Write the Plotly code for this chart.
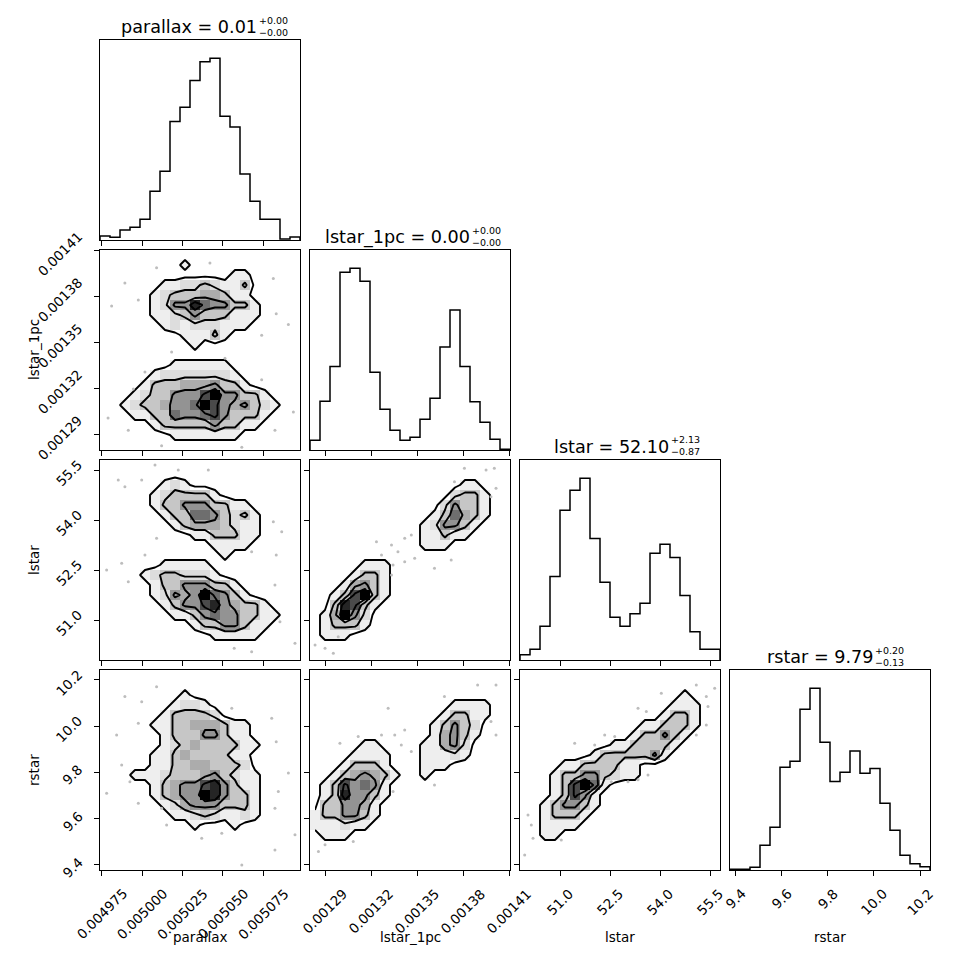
import numpy as np
import plotly.graph_objects as go

# ---------------- data ----------------
NAMES = ["parallax", "lstar_1pc", "lstar", "rstar"]
RANGES = [[0.004974, 0.0050977], [0.0012802, 0.0014105], [49.80, 55.80], [9.378, 10.243]]
TICKVALS = [[0.004975, 0.005, 0.005025, 0.00505, 0.005075],
            [0.00129, 0.00132, 0.00135, 0.00138, 0.00141],
            [51.0, 52.5, 54.0, 55.5],
            [9.4, 9.6, 9.8, 10.0, 10.2]]
TICKTEXT = [["0.004975", "0.005000", "0.005025", "0.005050", "0.005075"],
            ["0.00129", "0.00132", "0.00135", "0.00138", "0.00141"],
            ["51.0", "52.5", "54.0", "55.5"],
            ["9.4", "9.6", "9.8", "10.0", "10.2"]]

HIST_PARALLAX = [12, 8, 30, 38, 62, 146, 206, 355, 398, 478, 534, 545, 371, 339, 198, 116, 62, 62, 3, 9]
HIST_LSTAR_1PC = [29, 146, 250, 533, 545, 506, 233, 122, 59, 29, 38, 92, 155, 309, 420, 250, 145, 83, 32, 2]
HIST_LSTAR = [16, 32, 101, 250, 449, 509, 545, 364, 233, 128, 101, 139, 170, 320, 347, 307, 193, 85, 32, 32]
HIST_RSTAR = [2, 2, 8, 74, 128, 308, 326, 482, 545, 383, 265, 293, 357, 290, 304, 200, 119, 44, 19, 10]

TITLE_MAIN = ["parallax = 0.01", "lstar_1pc = 0.00", "lstar = 52.10", "rstar = 9.79"]
TITLE_SUP = ["+0.00", "+0.00", "+2.13", "+0.20"]
TITLE_SUB = ["\u22120.00", "\u22120.00", "\u22120.87", "\u22120.13"]

# 2D density grids (20x20, top row = highest y), digits = relative density
GRID_PAR_L1PC = [
    "00000000000000000000",
    "00000000100000000000",
    "00000000000001100000",
    "00000011223211300000",
    "00000123334431100000",
    "00000125586553310000",
    "00000112353331110000",
    "00000012122211100000",
    "00000000111310000000",
    "00000000010000000000",
    "00000000000000000000",
    "00000001111110000000",
    "00000122222221000000",
    "00001333444533100000",
    "00012335557955331000",
    "00123345569754532100",
    "00011336556753331000",
    "00000133333533110000",
    "00000001111111000000",
    "00000000000000000000",
]
GRID_PAR_LSTAR = [
    "00000000000000000000",
    "00000000000000000000",
    "00000012100000000000",
    "00000123333100000000",
    "00000133555331100000",
    "00000013366532310000",
    "00000001344432110000",
    "00000000011333110000",
    "00000000000111100000",
    "00000000000010000000",
    "00000011111000000000",
    "00001233222100000000",
    "00000133555331000000",
    "00000125459653100000",
    "00000013557854331000",
    "00000001135655331100",
    "00000000013355311000",
    "00000000000111110000",
    "00000000000000000000",
    "00000000000000000000",
]
GRID_L1PC_LSTAR = [
    "00000000000000000000",
    "00000000000000000000",
    "00000000000000011000",
    "00000000000000233100",
    "00000000000002533100",
    "00000000000013643100",
    "00000000000125531000",
    "00000000000113110000",
    "00000000000111000000",
    "00000000000000000000",
    "00000111000000000000",
    "00001331000000000000",
    "00014531000000000000",
    "00137931000000000000",
    "00387310000000000000",
    "01495200000000000000",
    "01333100000000000000",
    "01110000000000000000",
    "00000000000000000000",
    "00000000000000000000",
]
GRID_PAR_RSTAR = [
    "00000000000000000000",
    "00000000000000000000",
    "00000000100000000000",
    "00000001221000000000",
    "00000013333200000000",
    "00000113344431100000",
    "00000013335531100000",
    "00000012343333110000",
    "00000113433331100000",
    "00000113344333200000",
    "00011123334532110000",
    "00000134557853110000",
    "00000134559853310000",
    "00000012455533310000",
    "00000001123211210000",
    "00000000010001000000",
    "00000000000000000000",
    "00000000000000000000",
    "00000000000000000000",
    "00000000000000000000",
]
GRID_L1PC_RSTAR = [
    "00000000000000000000",
    "00000000000000000000",
    "00000000000000000000",
    "00000000000000111100",
    "00000000000001331100",
    "00000000000013532000",
    "00000000000014531000",
    "00000110000114520000",
    "00001111000111210000",
    "00013331000111000000",
    "00134543100100000000",
    "01375651000000000000",
    "01385531000000000000",
    "03355410000000000000",
    "13355310000000000000",
    "11121100000000000000",
    "01110000000000000000",
    "00000000000000000000",
    "00000000000000000000",
    "00000000000000000000",
]
GRID_LSTAR_RSTAR = [
    "00000000000000000000",
    "00000000000000000000",
    "00000000000000001000",
    "00000000000000011100",
    "00000000000000133100",
    "00000000000011333100",
    "00000000000133531000",
    "00000000011333310000",
    "00000001333335100000",
    "00001133331100000000",
    "00013355321100000000",
    "00013796100000000000",
    "00013751000000000000",
    "00135531000000000000",
    "00133310000000000000",
    "00111100000000000000",
    "00110000000000000000",
    "00000000000000000000",
    "00000000000000000000",
    "00000000000000000000",
]

# individual samples visible outside the contours
DOTS_PAR_L1PC_X = [0.005009, 0.0049894, 0.0049977, 0.0049812, 0.005042, 0.0050812, 0.005083, 0.0050905,
                   0.005074, 0.0050183, 0.0050018, 0.0049946, 0.004979, 0.0049915, 0.005074, 0.0050936,
                   0.0050822, 0.0050617, 0.0050121, 0.0050513]
DOTS_PAR_L1PC_Y = [0.001399, 0.001389, 0.001378, 0.001374, 0.001402, 0.001392, 0.001369, 0.001362,
                   0.001355, 0.001344, 0.001331, 0.00132, 0.001301, 0.001293, 0.001326, 0.001305,
                   0.001293, 0.001282, 0.001283, 0.00134]
DOTS_PAR_LSTAR_X = [0.005008, 0.0050224, 0.005041, 0.0049998, 0.0049853, 0.0049894, 0.0050812, 0.0050864,
                    0.0050678, 0.005083, 0.005009, 0.0050018, 0.0049874, 0.0049781, 0.0049915, 0.0050822,
                    0.0050853, 0.005057, 0.0050946, 0.0050678]
DOTS_PAR_LSTAR_Y = [55.65, 55.5, 55.5, 55.2, 55.2, 55.0, 53.95, 53.65, 53.05, 52.95, 53.45, 52.95, 52.7,
                    52.5, 52.15, 52.05, 50.95, 50.15, 50.3, 50.05]
DOTS_L1PC_LSTAR_X = [0.0013268, 0.0013333, 0.0013375, 0.0013419, 0.0013462, 0.0013419, 0.0013484,
                     0.0013613, 0.0013722, 0.0013235, 0.0013343, 0.0013808, 0.0013949, 0.0014003,
                     0.0014014, 0.0013981, 0.0013743, 0.0012835, 0.00129, 0.0012954, 0.0012986, 0.0013333]
DOTS_L1PC_LSTAR_Y = [52.95, 53.25, 53.05, 53.45, 53.55, 52.75, 52.85, 52.55, 52.8, 53.35, 52.65, 55.55,
                     55.5, 55.55, 54.95, 54.7, 55.15, 50.25, 50.15, 50.0, 50.5, 52.35]
DOTS_PAR_RSTAR_X = [0.005009, 0.0049998, 0.0049894, 0.0049977, 0.0049843, 0.0049874, 0.0049781, 0.0049977,
                    0.0050121, 0.0049925, 0.0050555, 0.0050802, 0.005083, 0.0050905, 0.0050843, 0.0050822,
                    0.0050946, 0.0050822, 0.0050369, 0.0050493, 0.0050617, 0.0050152]
DOTS_PAR_RSTAR_Y = [10.171, 10.106, 10.128, 10.013, 9.962, 9.832, 9.71, 9.667, 9.645, 9.76, 10.078, 10.034,
                    9.933, 9.797, 9.717, 9.645, 9.53, 9.465, 9.515, 9.537, 9.4, 9.573]
DOTS_L1PC_RSTAR_X = [0.0012857, 0.00129, 0.0012997, 0.0013116, 0.0013311, 0.0013268, 0.0013354, 0.0013419,
                     0.0013397, 0.0013462, 0.0013613, 0.0013678, 0.0013894, 0.0014014, 0.0013981, 0.0014014,
                     0.0013084, 0.0013343]
DOTS_L1PC_RSTAR_Y = [9.458, 9.487, 9.926, 9.955, 10.078, 9.962, 9.962, 9.984, 9.919, 9.89, 9.746, 10.128,
                     10.178, 10.178, 10.02, 9.962, 9.501, 9.717]
DOTS_LSTAR_RSTAR_X = [50.04, 50.14, 50.19, 51.04, 51.44, 52.04, 52.34, 52.64, 53.34, 53.59, 54.04, 55.09,
                      55.39, 55.64, 55.44, 55.39, 55.09, 52.54, 53.04, 53.34, 53.64, 49.94]
DOTS_LSTAR_RSTAR_Y = [9.616, 9.573, 9.515, 9.508, 9.926, 9.919, 9.962, 9.955, 10.078, 10.063, 10.142, 10.178,
                      10.128, 10.164, 10.085, 10.005, 9.962, 9.76, 9.76, 9.768, 9.789, 9.443]

HISTS = [HIST_PARALLAX, HIST_LSTAR_1PC, HIST_LSTAR, HIST_RSTAR]
GRIDS = {(1, 0): GRID_PAR_L1PC, (2, 0): GRID_PAR_LSTAR, (2, 1): GRID_L1PC_LSTAR,
         (3, 0): GRID_PAR_RSTAR, (3, 1): GRID_L1PC_RSTAR, (3, 2): GRID_LSTAR_RSTAR}
DOTS = {(1, 0): (DOTS_PAR_L1PC_X, DOTS_PAR_L1PC_Y), (2, 0): (DOTS_PAR_LSTAR_X, DOTS_PAR_LSTAR_Y),
        (2, 1): (DOTS_L1PC_LSTAR_X, DOTS_L1PC_LSTAR_Y), (3, 0): (DOTS_PAR_RSTAR_X, DOTS_PAR_RSTAR_Y),
        (3, 1): (DOTS_L1PC_RSTAR_X, DOTS_L1PC_RSTAR_Y), (3, 2): (DOTS_LSTAR_RSTAR_X, DOTS_LSTAR_RSTAR_Y)}

# ---------------- layout geometry (pixels) ----------------
W = H = 970
COL_LEFT = [100, 310, 520, 730]
ROW_TOP = [40, 250, 460, 670]
SIZE = 200
TITLE_SPLIT = [258, 471, 669.5, 874]
FONT = "DejaVu Sans, Liberation Sans, sans-serif"
GRAYS = [[0, "#ffffff"], [1 / 9, "#eeeeee"], [2 / 9, "#dddddd"], [3 / 9, "#c6c6c6"],
         [4 / 9, "#acacac"], [5 / 9, "#939393"], [6 / 9, "#6e6e6e"], [7 / 9, "#4a4a4a"],
         [8 / 9, "#252525"], [1, "#000000"]]


def fx(p):
    return p / W


def fy(p):
    return 1 - p / H


fig = go.Figure()
layout = dict(width=W, height=H, margin=dict(l=0, r=0, t=0, b=0),
              paper_bgcolor="white", plot_bgcolor="white", showlegend=False,
              font=dict(family=FONT, size=14, color="black"))
annotations = []

for i in range(4):
    for j in range(i + 1):
        n = i * 4 + j + 1
        sfx = "" if n == 1 else str(n)
        xref, yref = "x" + sfx, "y" + sfx
        xlo, xhi = RANGES[j]
        edges = np.linspace(xlo, xhi, 21)
        common = dict(showgrid=False, zeroline=False, showline=True, linecolor="black",
                      linewidth=1, mirror=True, ticks="outside", ticklen=5, tickwidth=1,
                      tickcolor="black", showticklabels=False)
        layout["xaxis" + sfx] = dict(common, domain=[fx(COL_LEFT[j]), fx(COL_LEFT[j] + SIZE)],
                                     anchor=yref, range=[xlo, xhi], tickvals=TICKVALS[j])
        if i == j:
            h = HISTS[i]
            xs, ys = [edges[0]], [0]
            for k, v in enumerate(h):
                xs += [edges[k], edges[k + 1]]
                ys += [v, v]
            xs.append(edges[-1])
            ys.append(0)
            fig.add_trace(go.Scatter(x=xs, y=ys, mode="lines", xaxis=xref, yaxis=yref,
                                     line=dict(color="black", width=1.5), hoverinfo="skip"))
            layout["yaxis" + sfx] = dict(common, domain=[fy(ROW_TOP[i] + SIZE), fy(ROW_TOP[i])],
                                         anchor=xref, range=[0, 1.1 * max(h)], ticks="",
                                         showticklabels=False)
            # title with stacked super/subscript
            annotations.append(dict(text=TITLE_MAIN[i], x=fx(TITLE_SPLIT[i]), y=fy(ROW_TOP[i] - 13),
                                    xref="paper", yref="paper", xanchor="right", yanchor="middle",
                                    showarrow=False, borderpad=0, font=dict(size=17.6, family=FONT)))
            annotations.append(dict(text=TITLE_SUP[i] + "<br>" + TITLE_SUB[i], x=fx(TITLE_SPLIT[i]),
                                    y=fy(ROW_TOP[i] - 14), xref="paper", yref="paper",
                                    xanchor="left", yanchor="middle", align="left", borderpad=0,
                                    showarrow=False, font=dict(size=9.5, family=FONT)))
        else:
            ylo, yhi = RANGES[i]
            yedges = np.linspace(ylo, yhi, 21)
            xc = (edges[:-1] + edges[1:]) / 2
            yc = (yedges[:-1] + yedges[1:]) / 2
            grid = GRIDS[(i, j)]
            z = [[int(ch) for ch in row] for row in reversed(grid)]
            fig.add_trace(go.Heatmap(x=xc, y=yc, z=z, colorscale=GRAYS, zmin=0, zmax=9,
                                     showscale=False, xaxis=xref, yaxis=yref, hoverinfo="skip"))
            dx, dy = DOTS[(i, j)]
            fig.add_trace(go.Scatter(x=dx, y=dy, mode="markers", xaxis=xref, yaxis=yref,
                                     marker=dict(size=3, color="#bdbdbd"), hoverinfo="skip"))
            fig.add_trace(go.Contour(x=xc, y=yc, z=z, xaxis=xref, yaxis=yref, showscale=False,
                                     contours=dict(start=0.5, end=6.5, size=2, coloring="none"),
                                     line=dict(color="black", width=1.9, smoothing=0),
                                     hoverinfo="skip"))
            layout["yaxis" + sfx] = dict(common, domain=[fy(ROW_TOP[i] + SIZE), fy(ROW_TOP[i])],
                                         anchor=xref, range=[ylo, yhi], tickvals=TICKVALS[i])
            if j == 0:
                for v, t in zip(TICKVALS[i], TICKTEXT[i]):
                    annotations.append(dict(text=t, x=fx(COL_LEFT[0] - 12), y=v, xref="paper",
                                            yref=yref, xanchor="right", yanchor="middle",
                                            yshift=-3, textangle=-45, showarrow=False,
                                            font=dict(size=13.5, family=FONT)))
        if i == 3:
            for v, t in zip(TICKVALS[j], TICKTEXT[j]):
                annotations.append(dict(text=t, x=v, y=fy(ROW_TOP[3] + SIZE + 13), xref=xref,
                                        yref="paper", xanchor="center", yanchor="top",
                                        textangle=-45, showarrow=False,
                                        font=dict(size=13.5, family=FONT)))

# axis titles
for j in range(4):
    annotations.append(dict(text=NAMES[j], x=fx(COL_LEFT[j] + SIZE / 2), y=fy(937), xref="paper",
                            yref="paper", xanchor="center", yanchor="middle", showarrow=False,
                            font=dict(size=13.5, family=FONT)))
for i in range(1, 4):
    annotations.append(dict(text=NAMES[i], x=fx(34), y=fy(ROW_TOP[i] + SIZE / 2), xref="paper",
                            yref="paper", xanchor="center", yanchor="middle", textangle=-90,
                            showarrow=False, font=dict(size=13.5, family=FONT)))

layout["annotations"] = annotations
fig.update_layout(**layout)
fig.write_html("out.html", config={"displayModeBar": False},
               post_script="document.body.style.margin='0';")
